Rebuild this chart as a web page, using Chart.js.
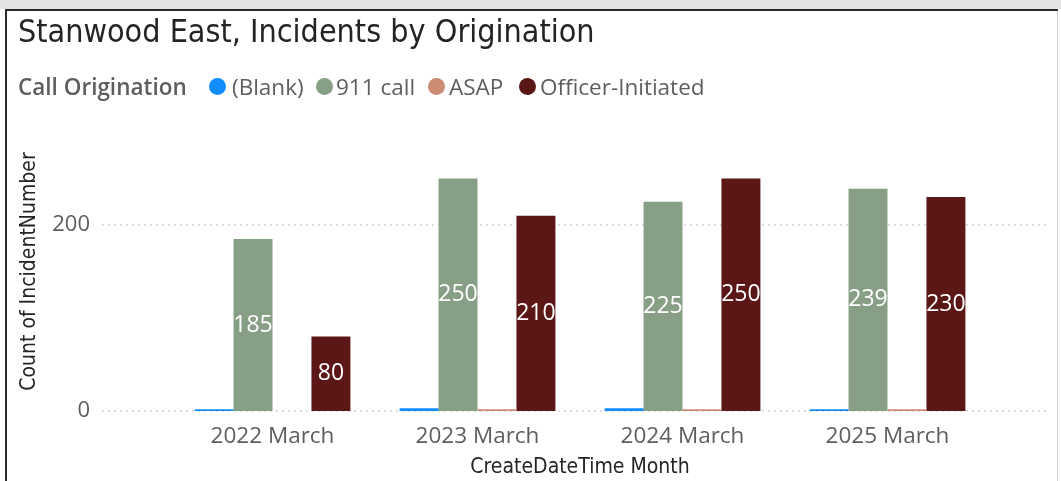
<!DOCTYPE html>
<html><head><meta charset="utf-8">
<script src="https://cdn.jsdelivr.net/npm/chart.js@4.4.1/dist/chart.umd.min.js"></script>
<style>
html,body{margin:0;padding:0;background:#fff;}
#wrap{position:relative;width:1061px;height:481px;overflow:hidden;background:#fff;}
#topband{position:absolute;left:0;top:0;width:1061px;height:9px;background:#e4e4e4;}
#topline{position:absolute;left:5px;top:9px;width:1053px;height:2px;background:#2b2b2b;}
#leftline{position:absolute;left:5px;top:9px;width:2px;height:472px;background:#2b2b2b;}
#rightline{position:absolute;left:1057px;top:11px;width:1px;height:470px;background:#d4d4d4;}
canvas{position:absolute;left:0;top:0;}
#title{position:absolute;left:18px;top:11px;font-family:"DejaVu Sans Condensed","DejaVu Sans";font-stretch:condensed;font-size:32px;color:#252423;white-space:nowrap;line-height:40px;}
.lg{position:absolute;top:74px;line-height:26px;font-family:"Open Sans","Noto Sans";font-size:22.5px;color:#605E5C;white-space:nowrap;}
.lgt{font-weight:600;}
.dot{position:absolute;top:78px;width:17px;height:17px;border-radius:50%;}
</style>
</head>
<body>
<div id="wrap">
  <div id="topband"></div>
  <div id="topline"></div>
  <div id="leftline"></div>
  <div id="rightline"></div>
  <canvas id="c" width="1061" height="481"></canvas>
  <div id="title">Stanwood East, Incidents by Origination</div>
  <div id="legend"></div>
</div>
<script>
const categories = ['2022 March', '2023 March', '2024 March', '2025 March'];
const blankValues = [2, 3, 3, 2];
const call911Values = [185, 250, 225, 239];
const asapValues = [0, 2, 2, 2];
const officerValues = [80, 210, 250, 230];
const seriesNames = ['(Blank)', '911 call', 'ASAP', 'Officer-Initiated'];
const legendTitle = 'Call Origination';
const yTickValues = [0, 200];
const yMax = 300;
const xTitle = 'CreateDateTime Month';
const yTitle = 'Count of IncidentNumber';

const seriesColors = ['#118DFF', '#879F84', '#CC8B72', '#5B1616'];
const legendDotX = [209, 316, 428, 519];
const legendTextX = [232, 336, 449, 540];

// HTML legend
const lg = document.getElementById('legend');
const t = document.createElement('div');
t.className = 'lg lgt'; t.style.left = '18px'; t.textContent = legendTitle;
lg.appendChild(t);
seriesNames.forEach((n, i) => {
  const d = document.createElement('div');
  d.className = 'dot'; d.style.left = legendDotX[i] + 'px'; d.style.background = seriesColors[i];
  lg.appendChild(d);
  const s = document.createElement('div');
  s.className = 'lg'; s.style.left = legendTextX[i] + 'px'; s.textContent = n;
  lg.appendChild(s);
});

const dottedGrid = {
  id: 'dottedGrid',
  beforeDatasetsDraw(chart) {
    const y = chart.scales.y, ctx = chart.ctx, a = chart.chartArea;
    ctx.save();
    ctx.strokeStyle = '#dedede';
    ctx.lineWidth = 2;
    ctx.setLineDash([2, 4]);
    y.ticks.forEach(tk => {
      const py = Math.round(y.getPixelForValue(tk.value));
      ctx.beginPath();
      ctx.moveTo(a.left - 68, py);
      ctx.lineTo(a.right + 60, py);
      ctx.stroke();
    });
    ctx.restore();
  }
};

const valueLabels = {
  id: 'valueLabels',
  afterDatasetsDraw(chart) {
    const ctx = chart.ctx;
    ctx.save();
    ctx.font = '23px "Open Sans", "Noto Sans"';
    ctx.fillStyle = '#ffffff';
    ctx.textAlign = 'center';
    ctx.textBaseline = 'middle';
    chart.data.datasets.forEach((ds, i) => {
      if (!ds.showValue) return;
      chart.getDatasetMeta(i).data.forEach((bar, j) => {
        const p = bar.getProps(['x', 'y', 'base'], true);
        ctx.fillText(String(ds.data[j]), p.x, (p.y + p.base) / 2);
      });
    });
    ctx.restore();
  }
};

const allValues = [blankValues, call911Values, asapValues, officerValues];
new Chart(document.getElementById('c'), {
  type: 'bar',
  data: {
    labels: categories,
    datasets: allValues.map((vals, i) => ({
      label: seriesNames[i],
      data: vals,
      backgroundColor: seriesColors[i],
      borderWidth: 0,
      categoryPercentage: 0.76,
      barPercentage: 1.0,
      showValue: i === 1 || i === 3
    }))
  },
  options: {
    responsive: false,
    animation: false,
    devicePixelRatio: 1,
    layout: { padding: { top: 132, right: 71, bottom: 0, left: 0 } },
    plugins: { legend: { display: false }, title: { display: false }, tooltip: { enabled: false } },
    scales: {
      x: {
        grid: { display: false, drawTicks: false },
        border: { display: false },
        ticks: { color: '#605E5C', font: { family: '"Open Sans", "Noto Sans"', size: 22.5 }, padding: 12, maxRotation: 0 },
        title: { display: true, text: xTitle, color: '#252423', font: { family: '"DejaVu Sans Condensed", "DejaVu Sans"', size: 21 }, padding: { top: 0, bottom: 1 } },
        afterFit: s => { s.height = 70; }
      },
      y: {
        min: 0, max: yMax,
        afterBuildTicks: s => { s.ticks = yTickValues.map(v => ({ value: v })); },
        grid: { display: false, drawTicks: true, tickLength: 76, tickColor: 'rgba(0,0,0,0)' },
        border: { display: false },
        ticks: { color: '#605E5C', font: { family: '"Open Sans", "Noto Sans"', size: 22 }, padding: 4 },
        title: { display: true, text: yTitle, color: '#252423', font: { family: '"DejaVu Sans Condensed", "DejaVu Sans"', size: 21 }, padding: { top: 17, bottom: 0 } },
        afterFit: s => { s.width = 170; }
      }
    }
  },
  plugins: [dottedGrid, valueLabels]
});
</script>
</body></html>
